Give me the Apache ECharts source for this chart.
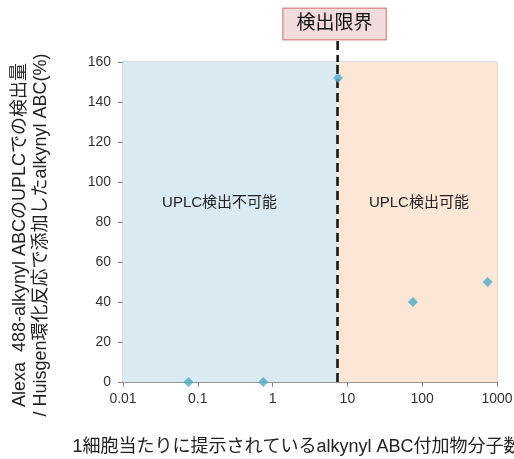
<!DOCTYPE html>
<html>
<head>
<meta charset="utf-8">
<script src="https://cdn.jsdelivr.net/npm/echarts@6/dist/echarts.min.js"></script>
<style>
  html,body{margin:0;padding:0;background:#fff;}
  #chart{width:514px;height:459px;}
</style>
</head>
<body>
<div id="chart"></div>
<script>
// 1細胞当たりの分子数 と 検出量(%)
const moleculesPerCell = [0.075, 0.75, 7.5, 75, 750];
const detectedPercent = [0, 0, 152, 40, 50];
const detectionLimit = 7.4;
const xTickLabels = ['0.01', '0.1', '1', '10', '100', '1000'];
const yTicks = [0, 20, 40, 60, 80, 100, 120, 140, 160];

const font = '"Liberation Sans", "Noto Sans CJK JP", sans-serif';

const chart = echarts.init(document.getElementById('chart'));

const option = {
  animation: false,
  backgroundColor: '#fff',
  textStyle: { fontFamily: font },
  grid: {
    left: 123, right: 17, top: 62, bottom: 77,
    outerBoundsMode: 'none', containLabel: false,
    show: true, borderColor: '#b8b8b8', borderWidth: 1
  },
  xAxis: {
    type: 'log',
    logBase: 10,
    min: 0.01,
    max: 1000,
    name: '1細胞当たりに提示されているalkynyl ABC付加物分子数',
    nameLocation: 'middle',
    nameGap: 56,
    nameTextStyle: { fontSize: 18, color: '#222', fontFamily: font, padding: [0, 26, 0, 0] },
    axisLine: { show: true, lineStyle: { color: '#8c8c8c', width: 1.5 } },
    axisTick: { show: true, length: 5, lineStyle: { color: '#8c8c8c' } },
    minorTick: { show: false },
    splitLine: { show: false },
    axisLabel: {
      fontSize: 14, color: '#333', margin: 10,
      formatter: function (v) {
        const i = Math.round(Math.log10(v)) + 2;
        return xTickLabels[i] || '';
      }
    }
  },
  yAxis: {
    type: 'value',
    min: 0,
    max: 160,
    interval: 20,
    name: 'Alexa  488-alkynyl ABCのUPLCでの検出量\n/ Huisgen環化反応で添加したalkynyl ABC(%)',
    nameLocation: 'middle',
    nameRotate: 90,
    nameGap: 71,
    nameTextStyle: { fontSize: 18, color: '#222', lineHeight: 21, fontFamily: font, padding: [0, 26, 0, 0] },
    axisLine: { show: true, lineStyle: { color: '#8c8c8c', width: 1 } },
    axisTick: { show: true, length: 5, lineStyle: { color: '#8c8c8c' } },
    splitLine: { show: true, lineStyle: { color: '#b4b4b4', width: 1 } },
    axisLabel: {
      fontSize: 14, color: '#333', margin: 12,
      formatter: function (v) { return yTicks.indexOf(v) >= 0 ? String(v) : ''; }
    }
  },
  series: [
    {
      type: 'scatter',
      symbol: 'diamond',
      symbolSize: 10,
      z: 5,
      itemStyle: { color: '#4bacc6' },
      data: moleculesPerCell.map((x, i) => [x, detectedPercent[i]]),
      markArea: {
        silent: true,
        data: [
          [
            {
              xAxis: 0.01,
              itemStyle: { color: '#d9eaf2' },
              label: { show: true, position: ['45%', '44%'], align: 'center', verticalAlign: 'middle', formatter: 'UPLC検出不可能', fontSize: 15, color: '#222', fontFamily: font }
            },
            { xAxis: detectionLimit }
          ],
          [
            {
              xAxis: detectionLimit,
              itemStyle: { color: '#fce6d6' },
              label: { show: true, position: ['51%', '44%'], align: 'center', verticalAlign: 'middle', formatter: 'UPLC検出可能', fontSize: 15, color: '#222', fontFamily: font }
            },
            { xAxis: 1000 }
          ]
        ]
      },
      markLine: {
        silent: true,
        symbol: 'none',
        label: { show: false },
        lineStyle: { color: '#111', width: 2.5, type: [9, 5] },
        data: [{ xAxis: detectionLimit }]
      }
    }
  ]
};

chart.setOption(option);

// 検出限界の吹き出し
const lx = chart.convertToPixel({ xAxisIndex: 0 }, detectionLimit);
const topY = chart.convertToPixel({ yAxisIndex: 0 }, 160);
chart.setOption({
  graphic: [
    {
      type: 'line',
      shape: { x1: lx, y1: topY - 21, x2: lx, y2: topY },
      style: { stroke: '#111', lineWidth: 2.5, lineDash: [9, 5] },
      z: 10
    },
    {
      type: 'text',
      x: lx - 3,
      y: topY - 38,
      z: 10,
      style: {
        text: '検出限界',
        fontSize: 19,
        fontFamily: font,
        fill: '#111',
        align: 'center',
        verticalAlign: 'middle',
        backgroundColor: '#f2dcdb',
        borderColor: '#d99694',
        borderWidth: 1.5,
        padding: [6, 13, 5, 13]
      }
    }
  ]
});
</script>
</body>
</html>
